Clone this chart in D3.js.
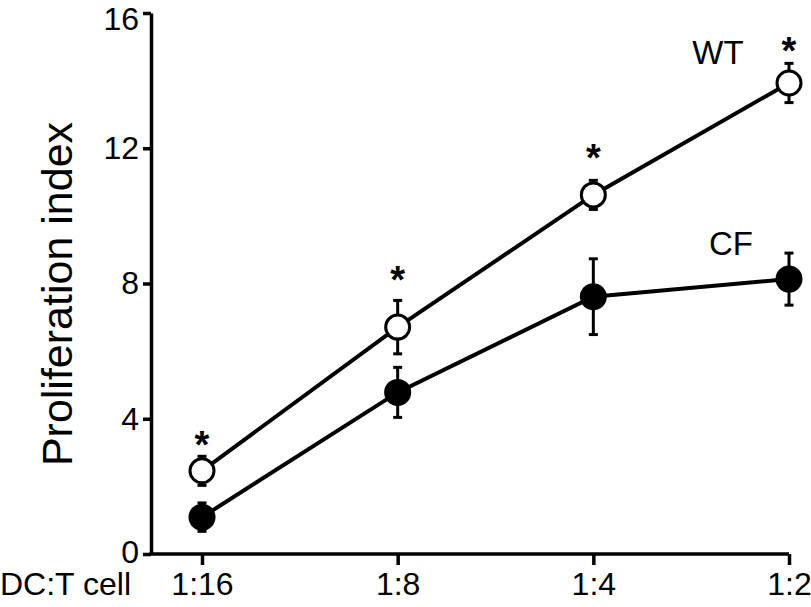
<!DOCTYPE html>
<html><head><meta charset="utf-8">
<script src="https://cdn.jsdelivr.net/npm/d3@7"></script>
<style>body{margin:0;background:#fff}svg{display:block}text{font-family:"Liberation Sans",Arial,sans-serif;fill:#000}</style>
</head><body>
<script>
const categories = ["1:16", "1:8", "1:4", "1:2"];
const wtValues = [2.46, 6.71, 10.62, 13.93];
const wtErrors = [0.43, 0.79, 0.43, 0.58];
const cfValues = [1.09, 4.78, 7.61, 8.13];
const cfErrors = [0.42, 0.74, 1.12, 0.77];
const sigY = [3.45, 8.35, 11.95, 15.1];
const yTicks = [0, 4, 8, 12, 16];

const W = 811, H = 607;
const svg = d3.select("body").append("svg").attr("width", W).attr("height", H);
const x = d3.scalePoint().domain(categories).range([202, 789]);
const y = d3.scaleLinear().domain([0, 16]).range([554, 13]);
const axisX0 = 151;
const FONT = '"Liberation Sans",Arial,sans-serif';

// y axis
const yAx = svg.append("g").attr("transform", `translate(${axisX0},0)`)
  .call(d3.axisLeft(y).tickValues(yTicks).tickSize(8).tickPadding(4).tickSizeOuter(0));
yAx.select(".domain").attr("stroke", "#000").attr("stroke-width", 3.5);
yAx.selectAll(".tick line").attr("stroke", "#000").attr("stroke-width", 3.5);
yAx.selectAll(".tick text").attr("font-size", 32).attr("font-family", FONT).attr("fill", "#000");
yAx.selectAll(".tick text").filter(d => d === 16).attr("dy", "0.5em");
yAx.selectAll(".tick text").filter(d => d === 0).attr("dy", "0.25em");

// x axis
const xAx = svg.append("g").attr("transform", `translate(0,${y(0)})`)
  .call(d3.axisBottom(x).tickSize(11).tickPadding(7).tickSizeOuter(0));
xAx.select(".domain").attr("d", `M${axisX0 - 1.75},0H${x("1:2")}`).attr("stroke", "#000").attr("stroke-width", 3.5);
xAx.selectAll(".tick line").attr("stroke", "#000").attr("stroke-width", 3.5);
xAx.selectAll(".tick text").attr("font-size", 32).attr("font-family", FONT).attr("fill", "#000").attr("dy", "0.71em");

svg.append("text").attr("x", 0).attr("y", 595).attr("font-size", 32).text("DC:T cell");

svg.append("text").attr("transform", `translate(72,${(118+470)/2}) rotate(-90)`)
  .attr("text-anchor", "middle").attr("font-size", 43).text("Proliferation index");

function series(vals, errs, filled) {
  const g = svg.append("g");
  const pts = categories.map((c, i) => ({c, v: vals[i], e: errs[i]}));
  pts.forEach(p => {
    const cx = x(p.c);
    g.append("line").attr("x1", cx).attr("x2", cx).attr("y1", y(p.v + p.e)).attr("y2", y(p.v - p.e))
      .attr("stroke", "#000").attr("stroke-width", 3);
    [p.v + p.e, p.v - p.e].forEach(t => g.append("line").attr("x1", cx - 4.5).attr("x2", cx + 4.5)
      .attr("y1", y(t)).attr("y2", y(t)).attr("stroke", "#000").attr("stroke-width", 3));
  });
  g.append("path").datum(pts).attr("fill", "none").attr("stroke", "#000").attr("stroke-width", 4)
    .attr("d", d3.line().x(d => x(d.c)).y(d => y(d.v)));
  g.selectAll("circle").data(pts).join("circle")
    .attr("cx", d => x(d.c)).attr("cy", d => y(d.v))
    .attr("r", filled ? 13.5 : 12)
    .attr("fill", filled ? "#000" : "#fff")
    .attr("stroke", "#000").attr("stroke-width", filled ? 0 : 3);
}
series(cfValues, cfErrors, true);
series(wtValues, wtErrors, false);

categories.forEach((c, i) => {
  svg.append("text").attr("x", x(c)).attr("y", y(sigY[i]) + 21).attr("text-anchor", "middle")
    .attr("font-size", 38).attr("font-weight", "bold").text("*");
});

svg.append("text").attr("x", 718).attr("y", 64).attr("text-anchor", "middle").attr("font-size", 33).text("WT");
svg.append("text").attr("x", 731).attr("y", 255).attr("text-anchor", "middle").attr("font-size", 33).text("CF");
</script>
</body></html>
